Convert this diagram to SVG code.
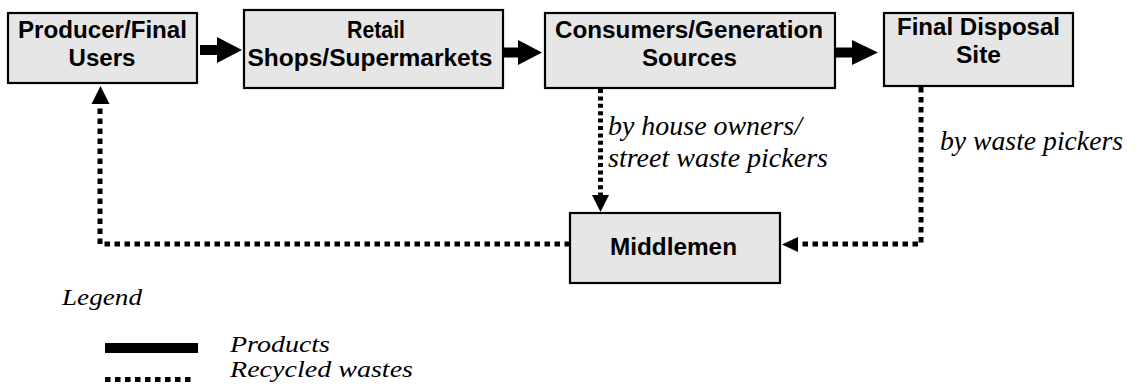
<svg xmlns="http://www.w3.org/2000/svg" width="1136" height="389" viewBox="0 0 1136 389">
<style>
.box{fill:#e6e6e6;stroke:#000;stroke-width:2.2}
.bt{font-family:"Liberation Sans",Arial,sans-serif;font-weight:bold;font-size:23px;text-anchor:middle;fill:#000}
.it{font-family:"Liberation Serif","Times New Roman",serif;font-style:italic;font-size:27px;fill:#000}
.lg{font-family:"Liberation Serif","Times New Roman",serif;font-style:italic;font-size:24px;fill:#000}
.dot{fill:none;stroke:#000;stroke-width:5;stroke-dasharray:5.5 4.5}
.dot2{fill:none;stroke:#000;stroke-width:5;stroke-dasharray:4 3.4}
.ah{fill:#000}
</style>
<rect width="1136" height="389" fill="#fff"/>
<g id="producer">
<rect class="box" x="8" y="13" width="189" height="70"/>
<text class="bt" x="102.5" y="38" textLength="169" lengthAdjust="spacingAndGlyphs">Producer/Final</text>
<text class="bt" x="102" y="66" textLength="67" lengthAdjust="spacingAndGlyphs">Users</text>
</g>
<g id="retail">
<rect class="box" x="244" y="10" width="259" height="78"/>
<text class="bt" x="376" y="38" textLength="58" lengthAdjust="spacingAndGlyphs">Retail</text>
<text class="bt" x="370" y="66" textLength="245" lengthAdjust="spacingAndGlyphs">Shops/Supermarkets</text>
</g>
<g id="consumers">
<rect class="box" x="545" y="13" width="290" height="75"/>
<text class="bt" x="689" y="38" textLength="268" lengthAdjust="spacingAndGlyphs">Consumers/Generation</text>
<text class="bt" x="689.5" y="66" textLength="95" lengthAdjust="spacingAndGlyphs">Sources</text>
</g>
<g id="disposal">
<rect class="box" x="884" y="13" width="189" height="73"/>
<text class="bt" x="978.5" y="35" textLength="163" lengthAdjust="spacingAndGlyphs">Final Disposal</text>
<text class="bt" x="978.5" y="63" textLength="45" lengthAdjust="spacingAndGlyphs">Site</text>
</g>
<g id="middlemen">
<rect class="box" x="570" y="213" width="210" height="70"/>
<text class="bt" x="673.5" y="255" textLength="127" lengthAdjust="spacingAndGlyphs">Middlemen</text>
</g>
<g id="connectors">
<polygon class="ah" points="200,45 217,45 217,37 242,50 217,63 217,55 200,55"/>
<polygon class="ah" points="504,47.5 518,47.5 518,40 542,52.5 518,65 518,57.5 504,57.5"/>
<polygon class="ah" points="836,47.5 852,47.5 852,40 878,52.5 852,65 852,57.5 836,57.5"/>
<path class="dot2" d="M600.5,89 V196"/>
<polygon class="ah" points="592,195 609,195 600.5,212"/>
<path class="dot" d="M570,244 H100 V103"/>
<polygon class="ah" points="91.5,104 109.5,104 100.5,86"/>
<path class="dot" d="M921,87 V244 H798"/>
<polygon class="ah" points="798,237 798,252 782,244.5"/>
</g>
<g id="labels">
<text class="it" x="608" y="135" textLength="194" lengthAdjust="spacingAndGlyphs">by house owners/</text>
<text class="it" x="608" y="167" textLength="220" lengthAdjust="spacingAndGlyphs">street waste pickers</text>
<text class="it" x="940" y="150" textLength="183" lengthAdjust="spacingAndGlyphs">by waste pickers</text>
</g>
<g id="legend">
<text class="lg" x="62" y="305" textLength="80" lengthAdjust="spacingAndGlyphs">Legend</text>
<rect x="105" y="343" width="93" height="10" fill="#000"/>
<path class="dot" d="M105,379.5 H193"/>
<text class="lg" x="230" y="352" textLength="100" lengthAdjust="spacingAndGlyphs">Products</text>
<text class="lg" x="230" y="377" textLength="183" lengthAdjust="spacingAndGlyphs">Recycled wastes</text>
</g>
</svg>
